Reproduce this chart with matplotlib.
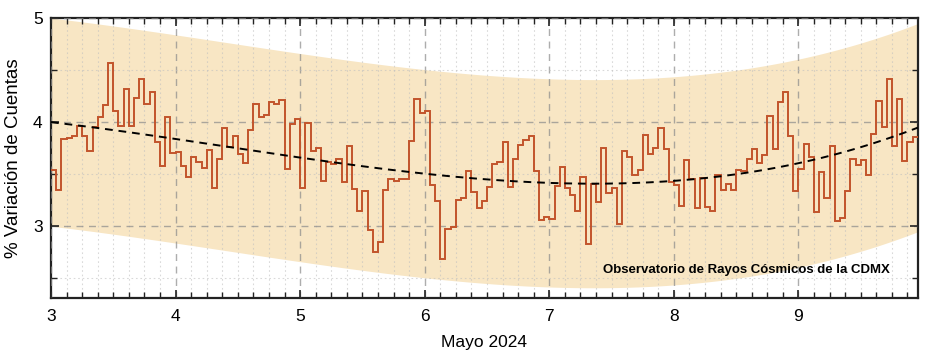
import numpy as np
import matplotlib
matplotlib.use("Agg")
import matplotlib.pyplot as plt
from matplotlib.ticker import MultipleLocator

plt.rcParams['font.family'] = ['Liberation Sans', 'DejaVu Sans']

# hourly % variation, starting 3 May 2024 00:00
variacion = [
    3.535, 3.343, 3.833, 3.85, 3.87, 3.96, 3.87, 3.72, 3.95, 4.045, 4.16, 4.57,
    4.11, 3.96, 4.32, 3.96, 4.23, 4.41, 4.17, 4.29, 3.81, 3.58, 4.045, 3.70,
    3.71, 3.58, 3.47, 3.66, 3.615, 3.56, 3.73, 3.37, 3.65, 3.94, 3.76, 3.87,
    3.69, 3.61, 3.92, 4.17, 4.045, 4.07, 4.19, 4.17, 4.21, 3.545, 3.98, 4.03,
    3.365, 3.99, 3.72, 3.75, 3.435, 3.615, 3.60, 3.65, 3.42, 3.77, 3.36, 3.15,
    3.34, 2.96, 2.75, 2.85, 3.35, 3.45, 3.43, 3.45, 3.455, 3.82, 4.22, 4.09,
    4.11, 3.40, 3.24, 2.68, 2.97, 2.99, 3.25, 3.27, 3.53, 3.33, 3.17, 3.24,
    3.38, 3.60, 3.615, 3.81, 3.38, 3.65, 3.78, 3.83, 3.87, 3.53, 3.06, 3.09,
    3.07, 3.39, 3.57, 3.365, 3.295, 3.15, 3.47, 2.83, 3.41, 3.23, 3.75, 3.32,
    3.365, 3.02, 3.72, 3.66, 3.49, 3.535, 3.88, 3.69, 3.75, 3.94, 3.74, 3.42,
    3.40, 3.19, 3.64, 3.45, 3.17, 3.46, 3.18, 3.15, 3.49, 3.35, 3.41, 3.35,
    3.54, 3.53, 3.65, 3.74, 3.61, 3.68, 4.06, 3.74, 4.19, 4.29, 3.87, 3.34,
    3.545, 3.79, 3.66, 3.135, 3.525, 3.27, 3.77, 3.05, 3.08, 3.34, 3.65, 3.59,
    3.64, 3.49, 3.89, 4.20, 3.95, 4.41, 3.77, 4.22, 3.63, 3.81, 3.86,
]
dia_inicio = 3
banda = 1.0
dias = [3, 4, 5, 6, 7, 8, 9]

vals = np.array(variacion)
n = len(vals)
bordes = dia_inicio + np.arange(n + 1) / 24.0
centros = dia_inicio + np.arange(n) / 24.0

# trend fit
coef = np.polyfit(centros, vals, 3)
xf = np.linspace(bordes[0], bordes[-1], 300)
yf = np.polyval(coef, xf)

fig = plt.figure(figsize=(9.29, 3.6), dpi=100)
ax = fig.add_axes([0.0549, 0.1722, 0.9331, 0.7778])

ax.fill_between(xf, yf - banda, yf + banda, color='#f8e6c4', lw=0, zorder=0)

ax.set_xlim(3, bordes[-1])
ax.set_ylim(2.31, 5)
ax.xaxis.set_major_locator(MultipleLocator(1))
ax.xaxis.set_minor_locator(MultipleLocator(0.125))
ax.yaxis.set_major_locator(MultipleLocator(1))
ax.yaxis.set_minor_locator(MultipleLocator(0.5))
ax.set_xticks(dias)

ax.grid(which='major', color='#8a8a8a', ls=(0, (5, 4)), lw=1.0, alpha=0.7, zorder=1)
ax.grid(which='minor', color='#c0c0c0', ls=(0, (1.5, 2.5)), lw=0.8, alpha=0.6, zorder=1)
ax.set_axisbelow(False)

ax.stairs(vals, bordes, baseline=None, color='#c2542b', lw=1.4, zorder=3)
ax.plot(xf, yf, color='black', ls=(0, (4, 3)), lw=1.4, zorder=4)

ax.tick_params(which='both', direction='in', top=True, right=True, labelsize=12.5,
               color='#222222')
ax.tick_params(which='major', length=6, width=1.2)
ax.tick_params(which='minor', length=4, width=1.0)
ax.tick_params(axis='x', pad=8)
ax.tick_params(axis='y', pad=6)
for s in ax.spines.values():
    s.set_linewidth(1.6)
    s.set_color('#222222')

ax.set_xlabel('Mayo 2024', fontsize=12.5, labelpad=8)
ax.set_ylabel('% Variación de Cuentas', fontsize=13.5, labelpad=8)

ax.text(0.968, 0.1, 'Observatorio de Rayos Cósmicos de la CDMX', transform=ax.transAxes,
        ha='right', va='center', fontsize=9.5, fontweight='bold', zorder=5)

fig.savefig('out.png', dpi=100)
